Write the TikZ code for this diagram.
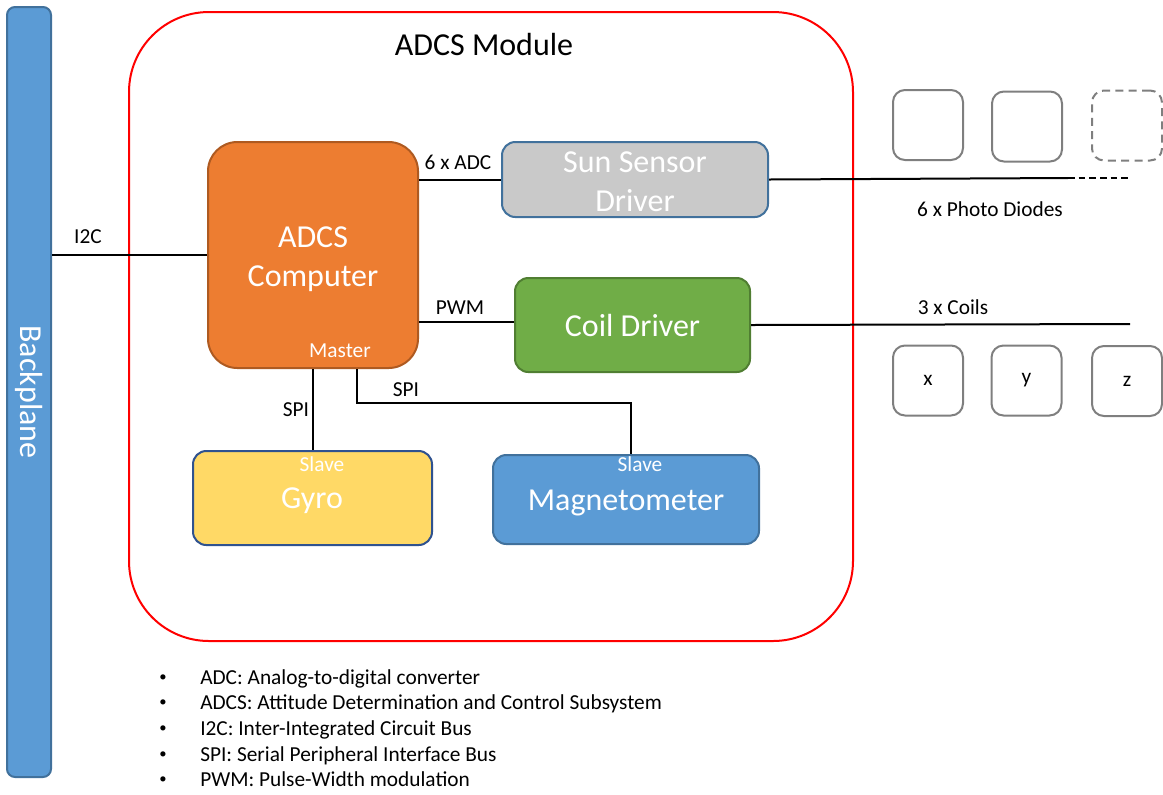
\documentclass[tikz,border=0pt]{standalone}
\usepackage{fontspec}
\setmainfont{Carlito}
\begin{document}
\def\px{0.75pt}
\definecolor{bpblue}{HTML}{5B9BD5}
\definecolor{bpborder}{HTML}{41719C}
\definecolor{orangef}{HTML}{ED7D31}
\definecolor{oranged}{HTML}{AE5A21}
\definecolor{grayf}{HTML}{C9C9C9}
\definecolor{greenf}{HTML}{70AD47}
\definecolor{greend}{HTML}{507E32}
\definecolor{yellowf}{HTML}{FFD966}
\definecolor{yellowd}{HTML}{2F528F}
\definecolor{pdgray}{HTML}{7F7F7F}
\begin{tikzpicture}[x=0.75pt,y=-0.75pt,
  box/.style={draw, line width=1.5pt, rounded corners=10pt, inner sep=0pt, align=center,
    text=white, font=\fontsize{24}{29}\selectfont},
  small/.style={font=\fontsize{16}{19}\selectfont, inner sep=0pt},
  wire/.style={line width=1.5pt, black},
  pd/.style={draw=pdgray, line width=1.5pt, rounded corners=9pt, minimum width=70*\px, minimum height=70*\px, inner sep=0pt, font=\fontsize{16}{19}\selectfont}]
\useasboundingbox (0,0) rectangle (1163,794);
% backplane
\node[box, draw=bpborder, fill=bpblue, minimum width=44*\px, minimum height=770*\px, rounded corners=6pt] (bp) at (29,392) {};
\node[rotate=-90, text=white, font=\fontsize{24}{29}\selectfont, inner sep=0pt] (bptext) at (bp.center) {Backplane};
% module
\node[draw=red, line width=1.5pt, rounded corners=60pt, minimum width=724*\px, minimum height=629*\px, inner sep=0pt] (mod) at (491,326.5) {};
\node[font=\fontsize{24}{29}\selectfont, inner sep=0pt] (modtitle) at (484,45) {ADCS Module};
% boxes
\node[box, draw=oranged, fill=orangef, minimum width=210*\px, minimum height=226*\px, rounded corners=22pt] (comp) at (313,255) {};
\node[text=white, align=center, font=\fontsize{24}{29}\selectfont, inner sep=0pt] (comptext) at (313,259) {ADCS\\Computer};
\node[small, text=white] (master) at (340,351) {Master};
\node[box, draw=bpborder, fill=grayf, minimum width=266*\px, minimum height=75*\px] (sun) at (635,179.5) {};
\node[text=white, align=center, font=\fontsize{24}{29}\selectfont, inner sep=0pt] (suntext) at (635,182) {Sun Sensor\\Driver};
\node[box, draw=greend, fill=greenf, minimum width=235*\px, minimum height=94*\px] (coil) at (632.5,325) {Coil Driver};
\node[box, draw=yellowd, fill=yellowf, minimum width=239*\px, minimum height=94*\px] (gyro) at (312.5,498) {};
\node[text=white, font=\fontsize{24}{29}\selectfont, inner sep=0pt] (gyrotext) at (312,501) {Gyro};
\node[small, text=white] (slave1) at (322,464) {Slave};
\node[box, draw=bpborder, fill=bpblue, minimum width=266*\px, minimum height=89*\px] (mag) at (626,499.5) {};
\node[text=white, font=\fontsize{24}{29}\selectfont, inner sep=0pt] (magtext) at (626,503) {Magnetometer};
\node[small, text=white] (slave2) at (640,464) {Slave};
% connectors
\draw[wire] (bp.east |- comp.west) -- (comp.west);
\node[small] (i2c) at (88,237) {I2C};
\draw[wire] (comp.east |- sun.west) -- (sun.west);
\node[small] (adc) at (458,162) {6 x ADC};
\draw[wire] (comp.east |- 0,322) -- (coil.west |- 0,322);
\node[small] (pwm) at (460,308) {PWM};
\coordinate (pdmid) at (1068,178);
\coordinate (pdend) at (1128,178);
\draw[wire] (sun.east) -- (pdmid);
\draw[wire, dashed, dash pattern=on 5pt off 3pt, line width=1.2pt] (pdmid) -- (pdend);
\node[small] (pdlabel) at (990,209) {6 x Photo Diodes};
\coordinate (coilend) at (1130,324);
\draw[wire] (coil.east) -- (coilend);
\node[small] (coilslabel) at (953,307) {3 x Coils};
\draw[wire] (comp.south -| 313,0) -- (gyro.north -| 313,0);
\node[small] (spi1) at (296,410) {SPI};
\coordinate (m1) at (357,403);
\coordinate (m2) at (631,403);
\draw[wire] (comp.south -| m1) -- (m1) -- (m2) -- (mag.north -| m2);
\node[small] (spi2) at (406,390) {SPI};
% photo diodes
\node[pd] (pd1) at (928,125) {};
\node[pd] (pd2) at (1027,126.5) {};
\node[pd, dashed, dash pattern=on 6pt off 4pt] (pd3) at (1127,125.5) {};
% coils
\node[pd] (cx) at (928,380.5) {x};
\node[pd] (cy) at (1026.5,380.5) {y};
\node[pd] (cz) at (1127,381) {z};
% legend
\foreach \i/\t in {0/{ADC: Analog-to-digital converter},1/{ADCS: Attitude Determination and Control Subsystem},2/{I2C: Inter-Integrated Circuit Bus},3/{SPI: Serial Peripheral Interface Bus},4/{PWM: Pulse-Width modulation}}{
  \node[font=\fontsize{11}{13}\selectfont, inner sep=0pt, anchor=base] (b\i) at (163,681+25.7*\i) {\textbullet};
  \node[small, anchor=base west] (l\i) at (200,684+25.7*\i) {\t};
}
\end{tikzpicture}
\end{document}
